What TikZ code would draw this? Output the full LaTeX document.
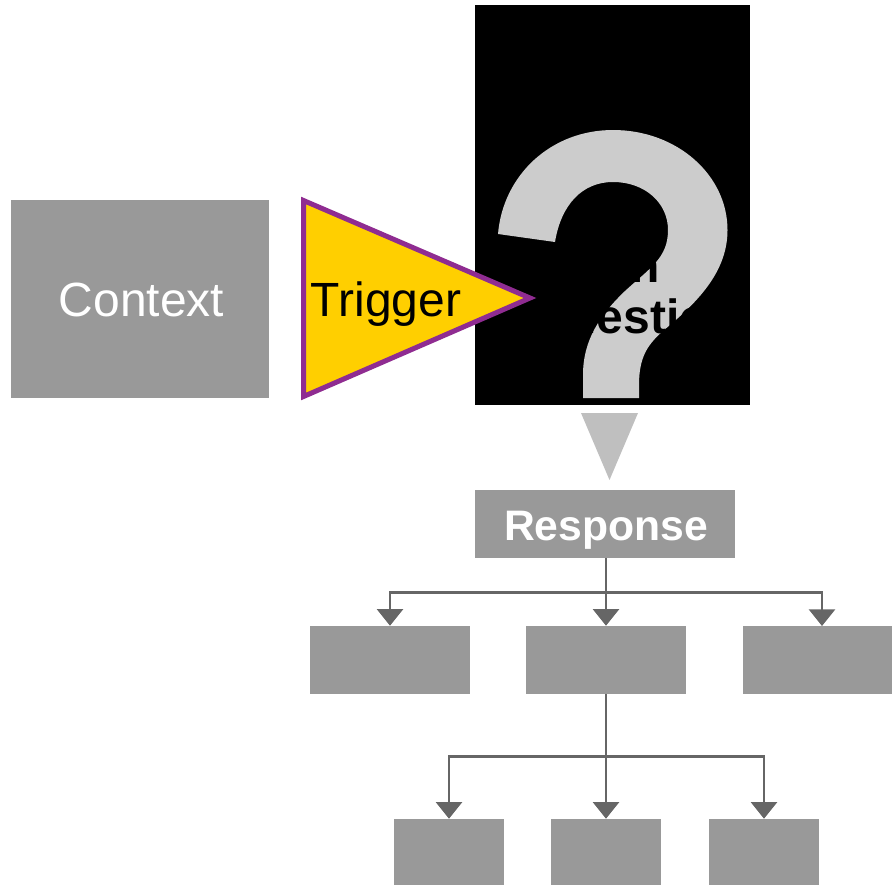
\documentclass[tikz,border=0pt]{standalone}
\usepackage{xcolor}
\usepackage{fontspec}
\setmainfont{Liberation Sans}
\usetikzlibrary{arrows.meta,positioning}
\definecolor{boxgray}{HTML}{999999}
\definecolor{linegray}{HTML}{666666}
\definecolor{pointgray}{HTML}{BFBFBF}
\definecolor{markgray}{HTML}{CCCCCC}
\definecolor{triggerfill}{HTML}{FFCF00}
\definecolor{triggerline}{HTML}{8F2C91}

\begin{document}
\begin{tikzpicture}[x=0.75pt, y=-0.75pt,
    box/.style={fill=boxgray, inner sep=0pt},
    kid/.style={box, minimum width=120pt, minimum height=51pt},
    leaf/.style={box, minimum width=82.5pt, minimum height=49.5pt},
    big/.style={inner sep=0pt, anchor=base, font=\fontsize{36}{36}\selectfont},
    link/.style={draw=linegray, line width=2.1pt, -{Triangle[width=19.5pt,length=12.5pt]}}]
                        \useasboundingbox (0, 0) rectangle (892, 885);
                        \fill[black] (475, 5) rectangle (750, 405);
                        \fill[markgray] (498, 234) .. controls (503, 175) and (551, 130) .. (613, 130)
                            .. controls (677, 130) and (727.5, 175) .. (727.5, 230)
                            .. controls (727.5, 268) and (703, 297) .. (670, 325)
                            .. controls (651, 341) and (639, 352) .. (639, 385) -- (639, 398) -- (583, 398) -- (583, 375)
                            .. controls (583, 340) and (600, 315) .. (625, 291)
                            .. controls (650, 268) and (668, 258) .. (668, 230)
                            .. controls (668, 203) and (645, 182) .. (613, 182)
                            .. controls (582, 182) and (561, 205) .. (555, 242) -- cycle;
                        \node[big, anchor=base east, font=\fontsize{36}{36}\bfseries] (open) at (660, 282) {n};
                        \node[big, anchor=base west, font=\fontsize{36}{36}\bfseries] (question) at (530, 333) {Question};
                        \node[box, minimum width=193.5pt, minimum height=148.5pt] (context) at (140, 299) {};
                        \node[big, text=white] (contextlabel) at (141.5, 316) {Context};
                        \coordinate (ttop) at (303.5, 200.5);
                        \coordinate (tbottom) at (303.5, 396.5);
                        \coordinate (ttip) at (530, 298);
                        \draw[draw=triggerline, fill=triggerfill, line width=3.75pt, miter limit=10] (ttop) -- (ttip) -- (tbottom) -- cycle;
                        \node[big] (trigger) at (386, 316) {Trigger};
                        \fill[pointgray] (581, 413) -- (638, 413) -- (609.5, 480) -- cycle;
                        \node[box, minimum width=195pt, minimum height=51pt] (response) at (605, 524) {};
                        \node[inner sep=0pt, anchor=base, text=white, font=\fontsize{32}{32}\bfseries] (responselabel) at (606, 540) {Response};
                        \node[kid] (kid1) at (390, 660) {};
                        \node[kid] (kid2) at (606, 660) {};
                        \node[kid, minimum width=111.75pt] (kid3) at (817.5, 660) {};
                        \node[leaf] (leaf1) at (449, 852) {};
                        \node[leaf] (leaf2) at (606, 852) {};
                        \node[leaf] (leaf3) at (764, 852) {};
                        \coordinate (kid3top) at (822, 626);
                        \draw [link] (kid2.north |- response.south) -- ++(0, 34) -| (kid1.north);
                        \draw [link] (kid2.north |- response.south) -- (kid2.north);
                        \draw [link] (kid2.north |- response.south) -- ++(0, 34) -| (kid3top);
                        \draw [link] (kid2.south) -- ++(0, 62) -| (leaf1.north);
                        \draw [link] (kid2.south) -- (leaf2.north);
                        \draw [link] (kid2.south) -- ++(0, 62) -| (leaf3.north);
\end{tikzpicture}
\end{document}
